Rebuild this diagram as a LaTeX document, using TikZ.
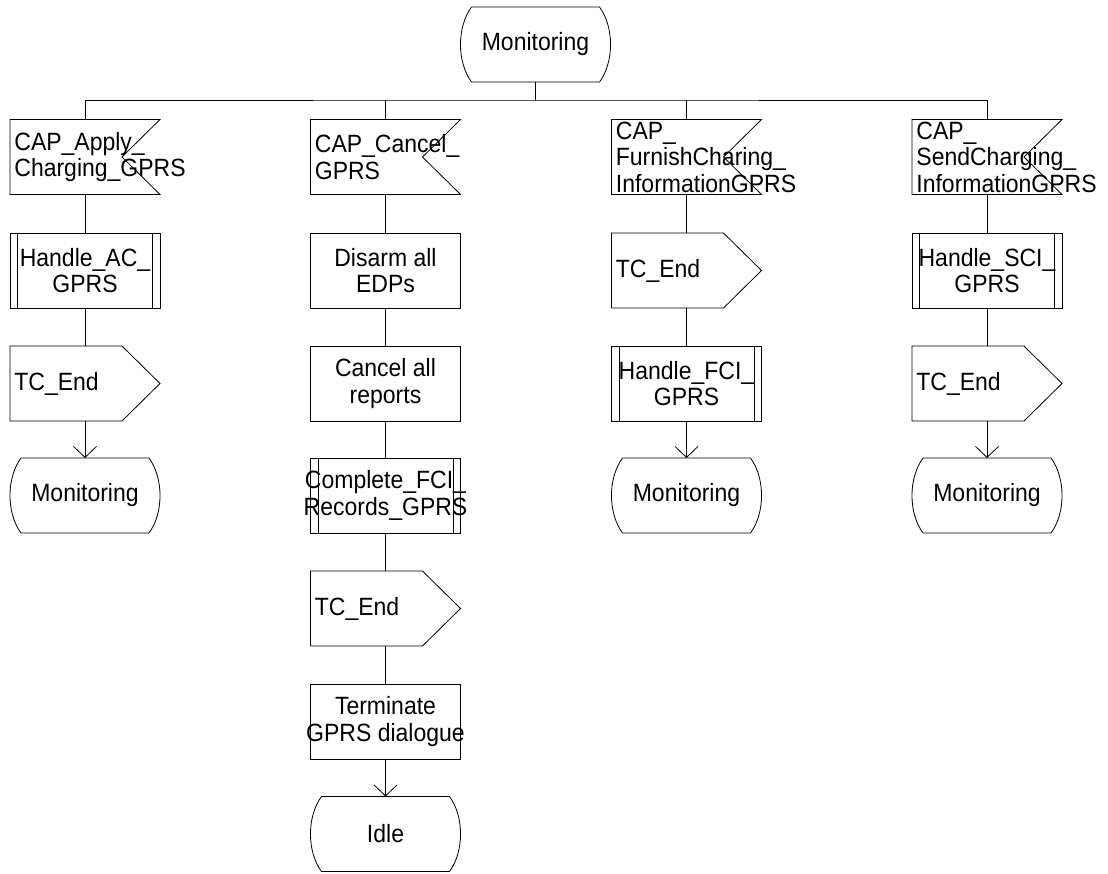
\documentclass[tikz,border=0pt]{standalone}
\usepackage{fontspec}
\setmainfont[FakeStretch=0.92]{Liberation Sans}
\usetikzlibrary{arrows.meta}
\newcommand{\sdlstate}[4]{%
  \node[shp] (#1) at (#2) {};
  \draw ([xshift=11pt]#1.north west) -- ([xshift=-11pt]#1.north east)
    .. controls ([xshift=3.7pt,yshift=-20pt]#1.north east) and ([xshift=3.7pt,yshift=20pt]#1.south east) .. ([xshift=-11pt]#1.south east)
    -- ([xshift=11pt]#1.south west)
    .. controls ([xshift=-3.7pt,yshift=20pt]#1.south west) and ([xshift=-3.7pt,yshift=-20pt]#1.north west) .. cycle;
  \node[lbl] (#1-t) at (#1) {#4};}
\newcommand{\sdlinput}[4]{%
  \node[shp] (#1) at (#2) {};
  \draw (#1.north west) -- (#1.north east) -- ([xshift=-38pt]#1.east) -- (#1.south east) -- (#1.south west) -- cycle;
  \node[lbll] (#1-t) at ([xshift=4pt]#1.west) {#4};}
\newcommand{\sdloutput}[4]{%
  \node[shp] (#1) at (#2) {};
  \draw (#1.north west) -- ([xshift=-38pt]#1.north east) -- (#1.east) -- ([xshift=-38pt]#1.south east) -- (#1.south west) -- cycle;
  \node[lbll] (#1-t) at ([xshift=4pt]#1.west) {#4};}
\newcommand{\sdlproc}[4]{%
  \node[shp,draw] (#1) at (#2) {};
  \draw ([xshift=7.5pt]#1.north west) -- ([xshift=7.5pt]#1.south west);
  \draw ([xshift=-7.5pt]#1.north east) -- ([xshift=-7.5pt]#1.south east);
  \node[lbl] (#1-t) at (#1) {#4};}
\newcommand{\sdltask}[4]{%
  \node[shp,draw] (#1) at (#2) {};
  \node[lbl] (#1-t) at (#1) {#4};}
\begin{document}
\begin{tikzpicture}[x=1pt,y=-1pt,line width=0.8pt,
  shp/.style={minimum width=150pt,minimum height=75pt,inner sep=0pt,outer sep=0pt},
  lbl/.style={font=\fontsize{25}{26.5}\selectfont,inner sep=0pt,align=center},
  lbll/.style={lbl,align=left,anchor=west},
  arr/.style={-{Straight Barb[length=11pt,width=23pt]}}]
\useasboundingbox (0,0) rectangle (1108,873);
% top state
\sdlstate{m0}{535.5,44.5}{}{Monitoring}
\coordinate (bus) at (535.5,100);
% column 1
\sdlinput{i1}{85,157}{}{CAP\_Apply\_\\Charging\_GPRS}
\sdlproc{p1}{85,270.5}{}{Handle\_AC\_\\GPRS}
\sdloutput{o1}{85,383.5}{}{TC\_End}
\sdlstate{s1}{85,495.5}{}{Monitoring}
% column 2
\sdlinput{i2}{385.5,157}{}{CAP\_Cancel\_\\GPRS}
\sdltask{t2a}{385.5,270.5}{}{Disarm all\\EDPs}
\sdltask{t2b}{385.5,383.5}{}{Cancel all\\reports}
\sdlproc{p2}{385.5,495.5}{}{Complete\_FCI\_\\Records\_GPRS}
\sdloutput{o2}{385.5,608.5}{}{TC\_End}
\sdltask{t2c}{385.5,721.5}{}{Terminate\\GPRS dialogue}
\sdlstate{s2}{385.5,834}{}{Idle}
% column 3
\sdlinput{i3}{686.5,157}{}{CAP\_\\FurnishCharing\_\\InformationGPRS}
\sdloutput{o3}{686.5,270.5}{}{TC\_End}
\sdlproc{p3}{686.5,383.5}{}{Handle\_FCI\_\\GPRS}
\sdlstate{s3}{686.5,495.5}{}{Monitoring}
% column 4
\sdlinput{i4}{987,157}{}{CAP\_\\SendCharging\_\\InformationGPRS}
\sdlproc{p4}{987,270.5}{}{Handle\_SCI\_\\GPRS}
\sdloutput{o4}{987,383.5}{}{TC\_End}
\sdlstate{s4}{987,495.5}{}{Monitoring}
% connectors
\draw (m0.south) -- (bus);
\draw (i1.north) |- (bus) -| (i4.north);
\draw (i2.north) -- (i2.north |- bus);
\draw (i3.north) -- (i3.north |- bus);
\draw (i1.south) -- (p1.north);
\draw (p1.south) -- (o1.north);
\draw[arr] (o1.south) -- (s1.north);
\draw (i2.south) -- (t2a.north);
\draw (t2a.south) -- (t2b.north);
\draw (t2b.south) -- (p2.north);
\draw (p2.south) -- (o2.north);
\draw (o2.south) -- (t2c.north);
\draw[arr] (t2c.south) -- (s2.north);
\draw (i3.south) -- (o3.north);
\draw (o3.south) -- (p3.north);
\draw[arr] (p3.south) -- (s3.north);
\draw (i4.south) -- (p4.north);
\draw (p4.south) -- (o4.north);
\draw[arr] (o4.south) -- (s4.north);
\end{tikzpicture}
\end{document}
